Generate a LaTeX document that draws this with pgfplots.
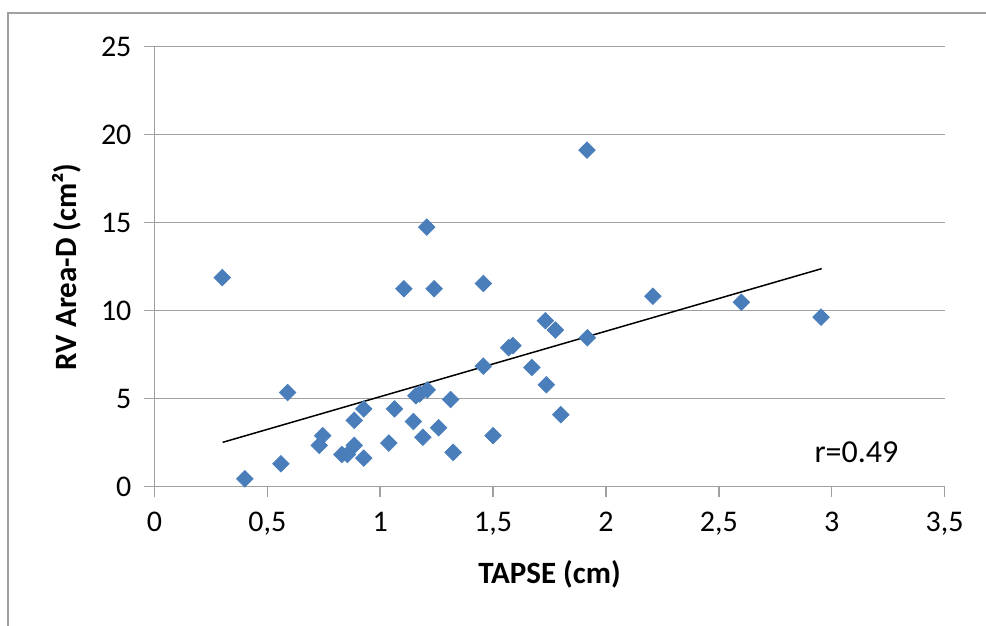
\documentclass[border=0pt]{standalone}
\usepackage{pgfplots}
\pgfplotsset{compat=1.18}
\usepackage{fontspec}
\setmainfont{Carlito}
\definecolor{pts}{HTML}{4A7EBB}
\definecolor{gridc}{HTML}{A0A0A0}

\begin{document}
\begin{tikzpicture}
\useasboundingbox (-77.25pt,-69.65pt) rectangle (415.75pt,243.35pt);
% chart area frame (only left and top edges are visible)
\draw[gridc, line width=0.8pt] (-73.25pt,-69.65pt) -- (-73.25pt,236.85pt) -- (415.75pt,236.85pt);
\begin{axis}[
    scale only axis, width=395pt, height=220pt,
    xmin=0, xmax=3.5, ymin=0, ymax=25,
    xtick={0,0.5,1,1.5,2,2.5,3,3.5},
    ytick={0,5,10,15,20,25},
    axis x line*=bottom, axis y line*=left,
    axis line style={gridc, line width=0.8pt, -},
    ymajorgrids, grid style={gridc, line width=0.8pt},
    tick style={gridc, line width=0.8pt},
    tick align=outside, major tick length=5pt,
    /pgf/number format/assume math mode=true,
    /pgf/number format/use comma,
    ticklabel style={font=\fontsize{15}{18}\selectfont, black},
    xticklabel style={yshift=-4pt},
    yticklabel style={xshift=-3pt},
    xlabel={TAPSE (cm)},
    ylabel={RV Area-D (cm²)},
    label style={font=\fontsize{15.5}{18}\selectfont\bfseries},
    xlabel style={at={(axis description cs:0.5,-0.2)}, anchor=center},
    ylabel style={at={(axis description cs:-0.1114,0.5)}, anchor=center},
    clip=false,
]
\addplot[only marks, mark=square*, mark size=2.9pt, mark options={rotate=45}, color=pts] coordinates {
    (0.30,11.88) (0.40,0.45) (0.56,1.30) (0.59,5.35) (0.73,2.35)
    (0.745,2.90) (0.83,1.83) (0.855,1.83) (0.885,2.35) (0.885,3.77)
    (0.927,1.62) (0.927,4.42) (1.038,2.48) (1.063,4.42) (1.105,11.25)
    (1.147,3.70) (1.158,5.17) (1.175,5.27) (1.208,5.50) (1.189,2.81)
    (1.206,14.75) (1.239,11.25) (1.259,3.35) (1.312,4.95) (1.323,1.95)
    (1.457,11.55) (1.457,6.85) (1.50,2.90) (1.569,7.90) (1.588,8.02)
    (1.672,6.77) (1.732,9.43) (1.736,5.79) (1.776,8.90) (1.80,4.09)
    (1.916,19.12) (1.918,8.46) (2.208,10.82) (2.600,10.48) (2.953,9.63)
};
\addplot[black, line width=0.75pt] coordinates {(0.302,2.52) (2.956,12.39)};
\node[font=\fontsize{16}{18}\selectfont] at (axis cs:3.11,1.94) {r=0.49};
\end{axis}
\end{tikzpicture}
\end{document}
